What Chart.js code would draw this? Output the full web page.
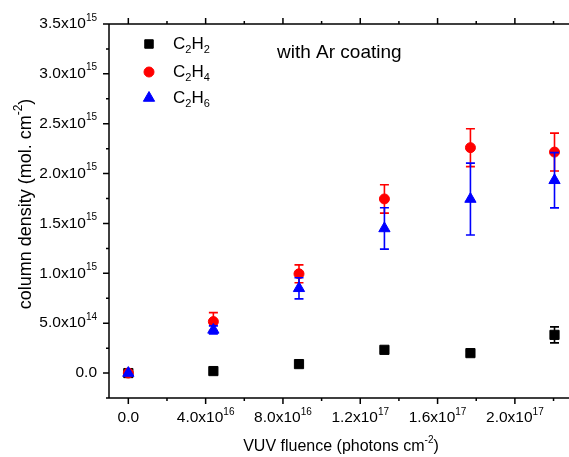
<!DOCTYPE html>
<html>
<head>
    <meta charset="UTF-8">
    <title>Column density vs VUV fluence</title>
    <script src="https://cdn.jsdelivr.net/npm/chart.js"></script>
    <style>
        body { margin: 0; background: #fff; }
    </style>
</head>
<body>
<canvas id="density" width="569" height="457"></canvas>
<script>
    // values
    const fluence = [0, 4.4e16, 8.83e16, 1.325e17, 1.77e17, 2.205e17];
    const c2h2 = [0, 2e13, 9e13, 2.33e14, 2.0e14, 3.83e14];
    const c2h2Err = [0, 0, 0, 2e13, 2e13, 8e13];
    const c2h4 = [0, 5.16e14, 9.95e14, 1.746e15, 2.26e15, 2.216e15];
    const c2h4Err = [0, 9e13, 9e13, 1.42e14, 1.9e14, 1.9e14];
    const c2h6 = [0, 4.33e14, 8.5e14, 1.45e15, 1.745e15, 1.933e15];
    const c2h6Err = [0, 4e13, 1.06e14, 2.07e14, 3.6e14, 2.77e14];

    const yTicks = [0, 5e14, 1e15, 1.5e15, 2e15, 2.5e15, 3e15, 3.5e15];
    const yTickLabels = [['0.0', ''], ['5.0x10', '14'], ['1.0x10', '15'], ['1.5x10', '15'],
        ['2.0x10', '15'], ['2.5x10', '15'], ['3.0x10', '15'], ['3.5x10', '15']];
    const yMinor = [-2.5e14, 2.5e14, 7.5e14, 1.25e15, 1.75e15, 2.25e15, 2.75e15, 3.25e15];
    const xTicks = [0, 4e16, 8e16, 1.2e17, 1.6e17, 2e17];
    const xTickLabels = [['0.0', ''], ['4.0x10', '16'], ['8.0x10', '16'], ['1.2x10', '17'],
        ['1.6x10', '17'], ['2.0x10', '17']];
    const xMinor = [2e16, 6e16, 1e17, 1.4e17, 1.8e17, 2.2e17];

    const FONT = "'Liberation Sans', Arial, sans-serif";

    function pts(ys) {
        return fluence.map((x, i) => ({x: x, y: ys[i]}));
    }

    // draws text made of parts: [text, shift] where shift 1 = superscript, -1 = subscript
    function richText(ctx, parts, x, y, size, align) {
        const small = Math.round(size * 0.64);
        let total = 0;
        parts.forEach(p => {
            ctx.font = (p[1] ? small : size) + 'px ' + FONT;
            total += ctx.measureText(p[0]).width;
        });
        let cx = align === 'right' ? x - total : align === 'center' ? x - total / 2 : x;
        ctx.textAlign = 'left';
        ctx.textBaseline = 'middle';
        parts.forEach(p => {
            ctx.font = (p[1] ? small : size) + 'px ' + FONT;
            let dy = p[1] === 1 ? -size * 0.4 : p[1] === -1 ? size * 0.38 : 0;
            ctx.fillText(p[0], cx, y + dy);
            cx += ctx.measureText(p[0]).width;
        });
    }

    const errors = [c2h2Err, c2h4Err, c2h6Err];

    const errorBars = {
        id: 'errorBars',
        beforeDatasetDraw(chart, args) {
            const ctx = chart.ctx;
            const xs = chart.scales.x, ys = chart.scales.y;
            const ds = chart.data.datasets[args.index];
            const err = errors[args.index];
            ctx.save();
            ctx.strokeStyle = ds.borderColor;
            ctx.lineWidth = 1.6;
            ds.data.forEach((p, i) => {
                if (!err[i]) return;
                const px = xs.getPixelForValue(p.x);
                const top = ys.getPixelForValue(p.y + err[i]);
                const bot = ys.getPixelForValue(p.y - err[i]);
                ctx.beginPath();
                ctx.moveTo(px, top); ctx.lineTo(px, bot);
                ctx.moveTo(px - 4.5, top); ctx.lineTo(px + 4.5, top);
                ctx.moveTo(px - 4.5, bot); ctx.lineTo(px + 4.5, bot);
                ctx.stroke();
            });
            ctx.restore();
        }
    };

    const frame = {
        id: 'frame',
        afterDraw(chart) {
            const ctx = chart.ctx;
            const a = chart.chartArea;
            const xs = chart.scales.x, ys = chart.scales.y;
            ctx.save();
            ctx.strokeStyle = '#000';
            ctx.fillStyle = '#000';
            ctx.lineWidth = 1.5;
            ctx.beginPath();
            ctx.moveTo(a.left, a.top); ctx.lineTo(a.right, a.top);
            ctx.moveTo(a.left, a.top); ctx.lineTo(a.left, a.bottom);
            ctx.moveTo(a.left, a.bottom); ctx.lineTo(a.right, a.bottom);
            yTicks.forEach(v => {
                const py = ys.getPixelForValue(v);
                ctx.moveTo(a.left - 6, py); ctx.lineTo(a.left, py);
            });
            yMinor.forEach(v => {
                const py = ys.getPixelForValue(v);
                ctx.moveTo(a.left - 3, py); ctx.lineTo(a.left, py);
            });
            xTicks.forEach(v => {
                const px = xs.getPixelForValue(v);
                ctx.moveTo(px, a.bottom); ctx.lineTo(px, a.bottom + 6);
                ctx.moveTo(px, a.top); ctx.lineTo(px, a.top - 6);
            });
            xMinor.forEach(v => {
                const px = xs.getPixelForValue(v);
                ctx.moveTo(px, a.bottom); ctx.lineTo(px, a.bottom + 3);
                ctx.moveTo(px, a.top); ctx.lineTo(px, a.top - 3);
            });
            ctx.stroke();

            yTicks.forEach((v, i) => {
                const l = yTickLabels[i];
                richText(ctx, [[l[0], 0], [l[1], 1]], a.left - 12, ys.getPixelForValue(v), 15.5, 'right');
            });
            xTicks.forEach((v, i) => {
                const l = xTickLabels[i];
                richText(ctx, [[l[0], 0], [l[1], 1]], xs.getPixelForValue(v), 418, 15.5, 'center');
            });

            richText(ctx, [['VUV fluence (photons cm', 0], ['-2', 1], [')', 0]], 341, 447, 16, 'center');
            ctx.save();
            ctx.translate(26, 204);
            ctx.rotate(-Math.PI / 2);
            richText(ctx, [['column density (mol. cm', 0], ['-2', 1], [')', 0]], 0, 0, 18, 'center');
            ctx.restore();

            // legend
            const legend = [['2', '2', 'rect', 6, 44], ['2', '4', 'circle', 5, 72], ['2', '6', 'triangle', 6.5, 98]];
            legend.forEach((l, i) => {
                const ds = chart.data.datasets[i];
                ctx.fillStyle = ds.backgroundColor;
                ctx.strokeStyle = ds.borderColor;
                ctx.lineWidth = 1;
                Chart.helpers.drawPoint(ctx, {pointStyle: l[2], radius: l[3], borderWidth: 1}, 149, l[4]);
                ctx.fillStyle = '#000';
                richText(ctx, [['C', 0], [l[0], -1], ['H', 0], [l[1], -1]], 173, l[4], 17, 'left');
            });
            ctx.fillStyle = '#000';
            richText(ctx, [['with Ar coating', 0]], 277, 53, 19, 'left');
            ctx.restore();
        }
    };

    const data = {
        datasets: [{
            label: 'C2H2',
            data: pts(c2h2),
            pointStyle: 'rect',
            pointRadius: 6.5,
            backgroundColor: '#000000',
            borderColor: '#000000',
            order: 3
        }, {
            label: 'C2H4',
            data: pts(c2h4),
            pointStyle: 'circle',
            pointRadius: 5,
            backgroundColor: '#ff0000',
            borderColor: '#ff0000',
            order: 2
        }, {
            label: 'C2H6',
            data: pts(c2h6),
            pointStyle: 'triangle',
            pointRadius: 6.5,
            backgroundColor: '#0000ff',
            borderColor: '#0000ff',
            order: 1
        }]
    };

    const config = {
        type: 'scatter',
        data: data,
        options: {
            responsive: false,
            animation: false,
            layout: {
                autoPadding: false,
                padding: {left: 109, top: 24, right: 0, bottom: 59}
            },
            plugins: {
                legend: {display: false},
                tooltip: {enabled: false}
            },
            scales: {
                x: {type: 'linear', display: false, min: -1e16, max: 2.28e17},
                y: {type: 'linear', display: false, min: -2.5e14, max: 3.5e15}
            }
        },
        plugins: [errorBars, frame]
    };

    new Chart(document.getElementById('density').getContext('2d'), config);
</script>
</body>
</html>
